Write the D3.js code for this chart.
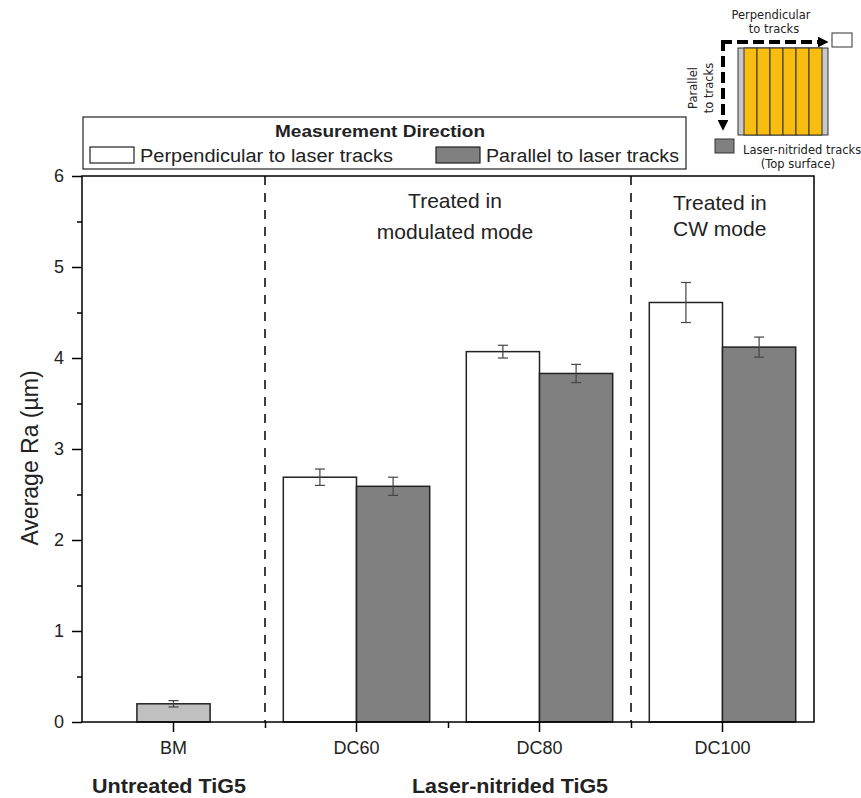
<!DOCTYPE html>
<html>
<head>
<meta charset="utf-8">
<script src="https://cdn.jsdelivr.net/npm/d3@7"></script>
<style>
  body { margin: 0; background: #fff; }
  svg text { font-family: "Liberation Sans", Arial, sans-serif; }
  .inset text { font-family: "DejaVu Sans", Verdana, sans-serif; }
</style>
</head>
<body>
<div id="chart"></div>
<script>
// categories and values
var categories = ["BM", "DC60", "DC80", "DC100"];
var untreatedValues = [0.20];
var untreatedErrors = [0.035];
var perpValues = [null, 2.69, 4.07, 4.61];
var perpErrors = [null, 0.09, 0.07, 0.22];
var paraValues = [null, 2.59, 3.83, 4.12];
var paraErrors = [null, 0.10, 0.10, 0.11];
var yTicks = [0, 1, 2, 3, 4, 5, 6];
var yMinorTicks = [0.5, 1.5, 2.5, 3.5, 4.5, 5.5];

var width = 861;
var height = 798;
var plotLeft = 82, plotRight = 814, plotTop = 176, plotBottom = 722;

var svg = d3.select("#chart")
  .append("svg")
  .attr("width", width)
  .attr("height", height);

var x = d3.scaleBand()
  .domain(categories)
  .range([plotLeft, plotRight])
  .padding(0);

var xSub = d3.scaleBand()
  .domain(["perp", "para"])
  .range([0, x.bandwidth()])
  .paddingInner(0)
  .paddingOuter(0.25);

var y = d3.scaleLinear()
  .domain([0, 6])
  .range([plotBottom, plotTop]);

// bars
var bars = [];
categories.forEach(function(c, i) {
  if (i == 0) {
    bars.push({ cat: c, x0: x(c) + x.bandwidth() / 2 - xSub.bandwidth() / 2, v: untreatedValues[0], e: untreatedErrors[0], fill: "#c0c0c0" });
  } else {
    bars.push({ cat: c, x0: x(c) + xSub("perp"), v: perpValues[i], e: perpErrors[i], fill: "#ffffff" });
    bars.push({ cat: c, x0: x(c) + xSub("para"), v: paraValues[i], e: paraErrors[i], fill: "#808080" });
  }
});

svg.append("g").selectAll("rect")
  .data(bars)
  .enter().append("rect")
  .attr("x", d => d.x0)
  .attr("y", d => y(d.v))
  .attr("width", xSub.bandwidth())
  .attr("height", d => y(0) - y(d.v))
  .attr("fill", d => d.fill)
  .attr("stroke", "#222")
  .attr("stroke-width", 1.5);

// error bars
var err = svg.append("g").selectAll("g")
  .data(bars)
  .enter().append("g")
  .attr("stroke", "#444")
  .attr("stroke-width", 1.2);

err.append("line")
  .attr("x1", d => d.x0 + xSub.bandwidth() / 2)
  .attr("x2", d => d.x0 + xSub.bandwidth() / 2)
  .attr("y1", d => y(d.v + d.e))
  .attr("y2", d => y(d.v - d.e));

[1, -1].forEach(function(s) {
  err.append("line")
    .attr("x1", d => d.x0 + xSub.bandwidth() / 2 - 5)
    .attr("x2", d => d.x0 + xSub.bandwidth() / 2 + 5)
    .attr("y1", d => y(d.v + s * d.e))
    .attr("y2", d => y(d.v + s * d.e));
});

// dashed separators
var separators = [categories[0], categories[2]];
svg.append("g").selectAll("line")
  .data(separators)
  .enter().append("line")
  .attr("x1", d => x(d) + x.bandwidth())
  .attr("x2", d => x(d) + x.bandwidth())
  .attr("y1", plotTop)
  .attr("y2", plotBottom)
  .attr("stroke", "#000")
  .attr("stroke-width", 1.5)
  .attr("stroke-dasharray", "9,8");

// frame
svg.append("rect")
  .attr("x", plotLeft)
  .attr("y", plotTop)
  .attr("width", plotRight - plotLeft)
  .attr("height", plotBottom - plotTop)
  .attr("fill", "none")
  .attr("stroke", "#000")
  .attr("stroke-width", 1.5);

// y axis
svg.append("g")
  .attr("transform", "translate(" + plotLeft + ",0)")
  .call(d3.axisLeft(y).tickValues(yTicks).tickSize(10).tickPadding(8).tickFormat(d3.format("d")));
svg.append("g")
  .attr("transform", "translate(" + plotLeft + ",0)")
  .call(d3.axisLeft(y).tickValues(yMinorTicks).tickSize(5).tickFormat(""));

// x axis
svg.append("g")
  .attr("transform", "translate(0," + plotBottom + ")")
  .call(d3.axisBottom(x).tickSize(10).tickPadding(9));
svg.append("g")
  .attr("transform", "translate(0," + plotBottom + ")")
  .call(d3.axisBottom(d3.scaleLinear().domain([plotLeft, plotRight]).range([plotLeft, plotRight]))
    .tickValues(categories.slice(0, 3).map(c => x(c) + x.bandwidth()))
    .tickSize(6).tickFormat(""));

svg.selectAll(".domain").remove();
svg.selectAll(".tick line").attr("stroke", "#000").attr("stroke-width", 1.5);
svg.selectAll(".tick text").attr("font-size", 18).attr("fill", "#222");

// y label
svg.append("text")
  .attr("transform", "translate(38,458) rotate(-90)")
  .attr("text-anchor", "middle")
  .attr("font-size", 23)
  .attr("fill", "#222")
  .text("Average Ra (\u00b5m)");

// group labels
svg.append("text")
  .attr("x", 92)
  .attr("y", 793)
  .attr("font-size", 20)
  .attr("font-weight", "bold")
  .attr("fill", "#222")
  .attr("textLength", 154)
  .attr("lengthAdjust", "spacingAndGlyphs")
  .text("Untreated TiG5");

svg.append("text")
  .attr("x", 412)
  .attr("y", 793)
  .attr("font-size", 20)
  .attr("font-weight", "bold")
  .attr("fill", "#222")
  .attr("textLength", 196)
  .attr("lengthAdjust", "spacingAndGlyphs")
  .text("Laser-nitrided TiG5");

// annotations
var note1 = svg.append("text")
  .attr("text-anchor", "middle")
  .attr("font-size", 21)
  .attr("fill", "#222");
note1.append("tspan").attr("x", 455).attr("y", 208).text("Treated in");
note1.append("tspan").attr("x", 455).attr("y", 239).text("modulated mode");

var note2 = svg.append("text")
  .attr("font-size", 21)
  .attr("fill", "#222");
note2.append("tspan").attr("x", 673).attr("y", 210).text("Treated in");
note2.append("tspan").attr("x", 673).attr("y", 236).text("CW mode");

// legend
var legend = svg.append("g");
legend.append("rect")
  .attr("x", 83).attr("y", 117)
  .attr("width", 603).attr("height", 52)
  .attr("fill", "#fff")
  .attr("stroke", "#222")
  .attr("stroke-width", 1.2);
legend.append("text")
  .attr("x", 275).attr("y", 137)
  .attr("font-size", 16)
  .attr("font-weight", "bold")
  .attr("fill", "#222")
  .attr("textLength", 210)
  .attr("lengthAdjust", "spacingAndGlyphs")
  .text("Measurement Direction");

var legendItems = [
  { label: "Perpendicular to laser tracks", fill: "#ffffff", x: 90, len: 253 },
  { label: "Parallel to laser tracks", fill: "#808080", x: 436, len: 193 }
];
var li = legend.selectAll("g.item")
  .data(legendItems)
  .enter().append("g")
  .attr("class", "item");
li.append("rect")
  .attr("x", d => d.x).attr("y", 147)
  .attr("width", 44).attr("height", 16)
  .attr("fill", d => d.fill)
  .attr("stroke", "#222")
  .attr("stroke-width", 1.2);
li.append("text")
  .attr("x", d => d.x + 50).attr("y", 162)
  .attr("font-size", 18)
  .attr("fill", "#222")
  .attr("textLength", d => d.len)
  .attr("lengthAdjust", "spacingAndGlyphs")
  .text(d => d.label);

// inset schematic
var inset = svg.append("g").attr("class", "inset");
var stripes = d3.range(6);
var trackX = d3.scaleBand().domain(stripes).range([744, 822]);

inset.append("rect")
  .attr("x", 738).attr("y", 48)
  .attr("width", 90).attr("height", 87)
  .attr("fill", "#c8c8c8")
  .attr("stroke", "#333")
  .attr("stroke-width", 1);
inset.selectAll("rect.stripe")
  .data(stripes)
  .enter().append("rect")
  .attr("class", "stripe")
  .attr("x", d => trackX(d))
  .attr("y", 48)
  .attr("width", trackX.bandwidth())
  .attr("height", 87)
  .attr("fill", "#f8bd0f")
  .attr("stroke", "#333")
  .attr("stroke-width", 1);

inset.append("defs").append("marker")
  .attr("id", "arrow")
  .attr("viewBox", "0 -5 10 10")
  .attr("refX", 2)
  .attr("markerWidth", 2.7)
  .attr("markerHeight", 2.7)
  .attr("orient", "auto")
  .append("path")
  .attr("d", "M0,-5L10,0L0,5");

inset.append("path")
  .attr("d", "M721,42L820,42")
  .attr("fill", "none")
  .attr("stroke", "#000")
  .attr("stroke-width", 4)
  .attr("stroke-dasharray", "11,5")
  .attr("marker-end", "url(#arrow)");
inset.append("path")
  .attr("d", "M723,40L723,122")
  .attr("fill", "none")
  .attr("stroke", "#000")
  .attr("stroke-width", 4)
  .attr("stroke-dasharray", "11,5")
  .attr("marker-end", "url(#arrow)");

inset.append("rect")
  .attr("x", 832).attr("y", 33)
  .attr("width", 20).attr("height", 14)
  .attr("fill", "#fff")
  .attr("stroke", "#333");
inset.append("rect")
  .attr("x", 715).attr("y", 139)
  .attr("width", 19).attr("height", 14)
  .attr("fill", "#808080")
  .attr("stroke", "#333");

var perpLabel = inset.append("text")
  .attr("text-anchor", "middle")
  .attr("font-size", 11.5)
  .attr("fill", "#222");
perpLabel.append("tspan").attr("x", 771).attr("y", 19).text("Perpendicular");
perpLabel.append("tspan").attr("x", 774).attr("y", 33).text("to tracks");

inset.append("text")
  .attr("transform", "translate(697,88) rotate(-90)")
  .attr("text-anchor", "middle")
  .attr("font-size", 11.5)
  .attr("fill", "#222")
  .text("Parallel");
inset.append("text")
  .attr("transform", "translate(713,88) rotate(-90)")
  .attr("text-anchor", "middle")
  .attr("font-size", 11.5)
  .attr("fill", "#222")
  .text("to tracks");

inset.append("text")
  .attr("x", 743).attr("y", 154)
  .attr("font-size", 11.5)
  .attr("fill", "#222")
  .text("Laser-nitrided tracks");
inset.append("text")
  .attr("x", 798).attr("y", 168)
  .attr("text-anchor", "middle")
  .attr("font-size", 11.5)
  .attr("fill", "#222")
  .text("(Top surface)");
</script>
</body>
</html>
